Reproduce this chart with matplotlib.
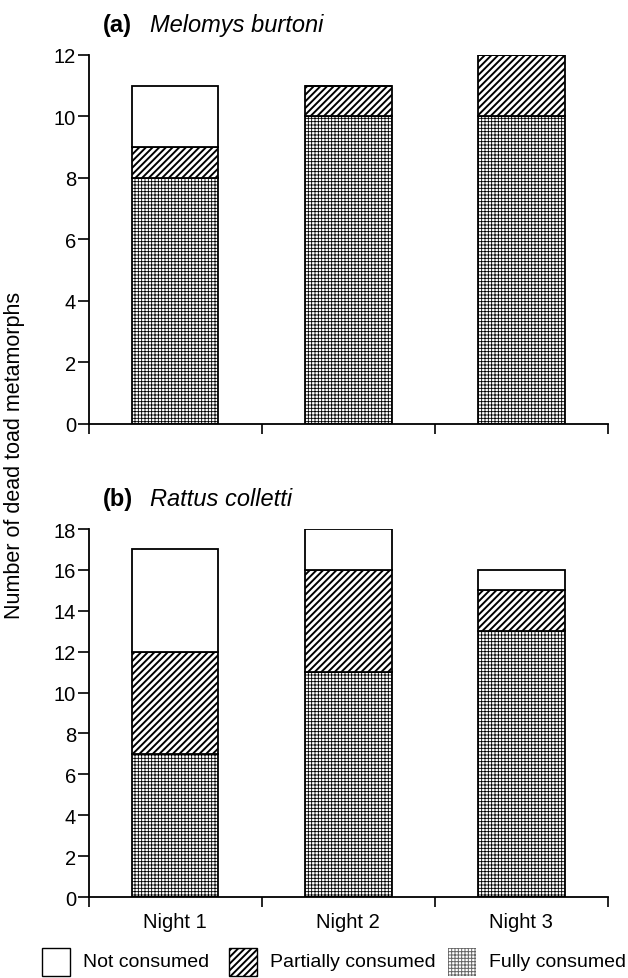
import numpy as np
import matplotlib
matplotlib.use("Agg")
import matplotlib.pyplot as plt
from matplotlib.patches import Rectangle

plt.rcParams['font.family'] = ['Liberation Sans', 'DejaVu Sans']

nights = ["Night 1", "Night 2", "Night 3"]

# panel (a) Melomys burtoni
a_fully = [8, 10, 10]
a_partial = [1, 1, 2]
a_not = [2, 0, 0]

# panel (b) Rattus colletti
b_fully = [7, 11, 13]
b_partial = [5, 5, 2]
b_not = [5, 2, 1]

HATCH_FULL = "+++++"
HATCH_PART = "/////"

FULL_RC = {'hatch.linewidth': 0.6, 'hatch.color': '#444444'}
PART_RC = {'hatch.linewidth': 1.4, 'hatch.color': 'black'}


def draw_panel(ax, fully, partial, notc, ymax, letter, species):
    x = np.arange(1, len(fully) + 1)
    fully = np.array(fully)
    partial = np.array(partial)
    notc = np.array(notc)
    w = 0.5
    with plt.rc_context(FULL_RC):
        ax.bar(x, fully, w, color='white', edgecolor='black', hatch=HATCH_FULL, lw=1.3)
    with plt.rc_context(PART_RC):
        ax.bar(x, partial, w, bottom=fully, color='white', edgecolor='black',
               hatch=HATCH_PART, lw=1.3)
    ax.bar(x, notc, w, bottom=fully + partial, color='white', edgecolor='black', lw=1.3)

    ax.set_xlim(0.5, 3.5)
    ax.set_ylim(0, ymax)
    ax.set_yticks(np.arange(0, ymax + 1, 2))
    ax.set_xticks([0.5, 1.5, 2.5, 3.5])
    ax.set_xticklabels([])
    ax.set_xticks(x, minor=True)
    ax.tick_params(axis='x', which='minor', length=0, labelsize=14.5, pad=11)
    ax.tick_params(axis='x', which='major', direction='out', length=7.5, width=1.2)
    ax.tick_params(axis='y', direction='out', length=8, width=1.2, labelsize=14.5, pad=1)
    for s in ['top', 'right']:
        ax.spines[s].set_visible(False)
    for s in ['left', 'bottom']:
        ax.spines[s].set_linewidth(1.3)
    ax.text(0.027, 1.065, letter, transform=ax.transAxes, fontsize=17, fontweight='bold',
            va='baseline', ha='left')
    ax.text(0.119, 1.065, species, transform=ax.transAxes, fontsize=17, style='italic',
            va='baseline', ha='left')


fig = plt.figure(figsize=(6.28, 9.79), dpi=100)
ax1 = fig.add_axes([0.141, 0.5659, 0.827, 0.3769])
ax2 = fig.add_axes([0.141, 0.0827, 0.827, 0.3759])

draw_panel(ax1, a_fully, a_partial, a_not, 12, "(a)", "Melomys burtoni")
draw_panel(ax2, b_fully, b_partial, b_not, 18, "(b)", "Rattus colletti")
ax2.set_xticklabels(nights, minor=True)

fig.text(0.023, 0.535, "Number of dead toad metamorphs", rotation=90, fontsize=15.5,
         va='center', ha='center')

# legend
leg_items = [("Not consumed", None, 42), ("Partially consumed", HATCH_PART, 229),
             ("Fully consumed", HATCH_FULL, 448)]
W, H = 628.0, 979.0
for label, h, x0 in leg_items:
    if h == HATCH_FULL:
        ctx = {'hatch.linewidth': 0.7, 'hatch.color': '#666666'}
        ec, lw = '#666666', 0
    else:
        ctx = PART_RC
        ec, lw = 'black', 1.0
    with plt.rc_context(ctx):
        r = Rectangle((x0 / W, 2 / H), 28 / W, 28 / H, transform=fig.transFigure,
                      facecolor='white', edgecolor=ec, hatch=h, lw=lw)
    fig.patches.append(r)
    fig.text((x0 + 41) / W, 1 - 963 / H, label, fontsize=14, va='center', ha='left')

fig.savefig("out.png", dpi=100)
